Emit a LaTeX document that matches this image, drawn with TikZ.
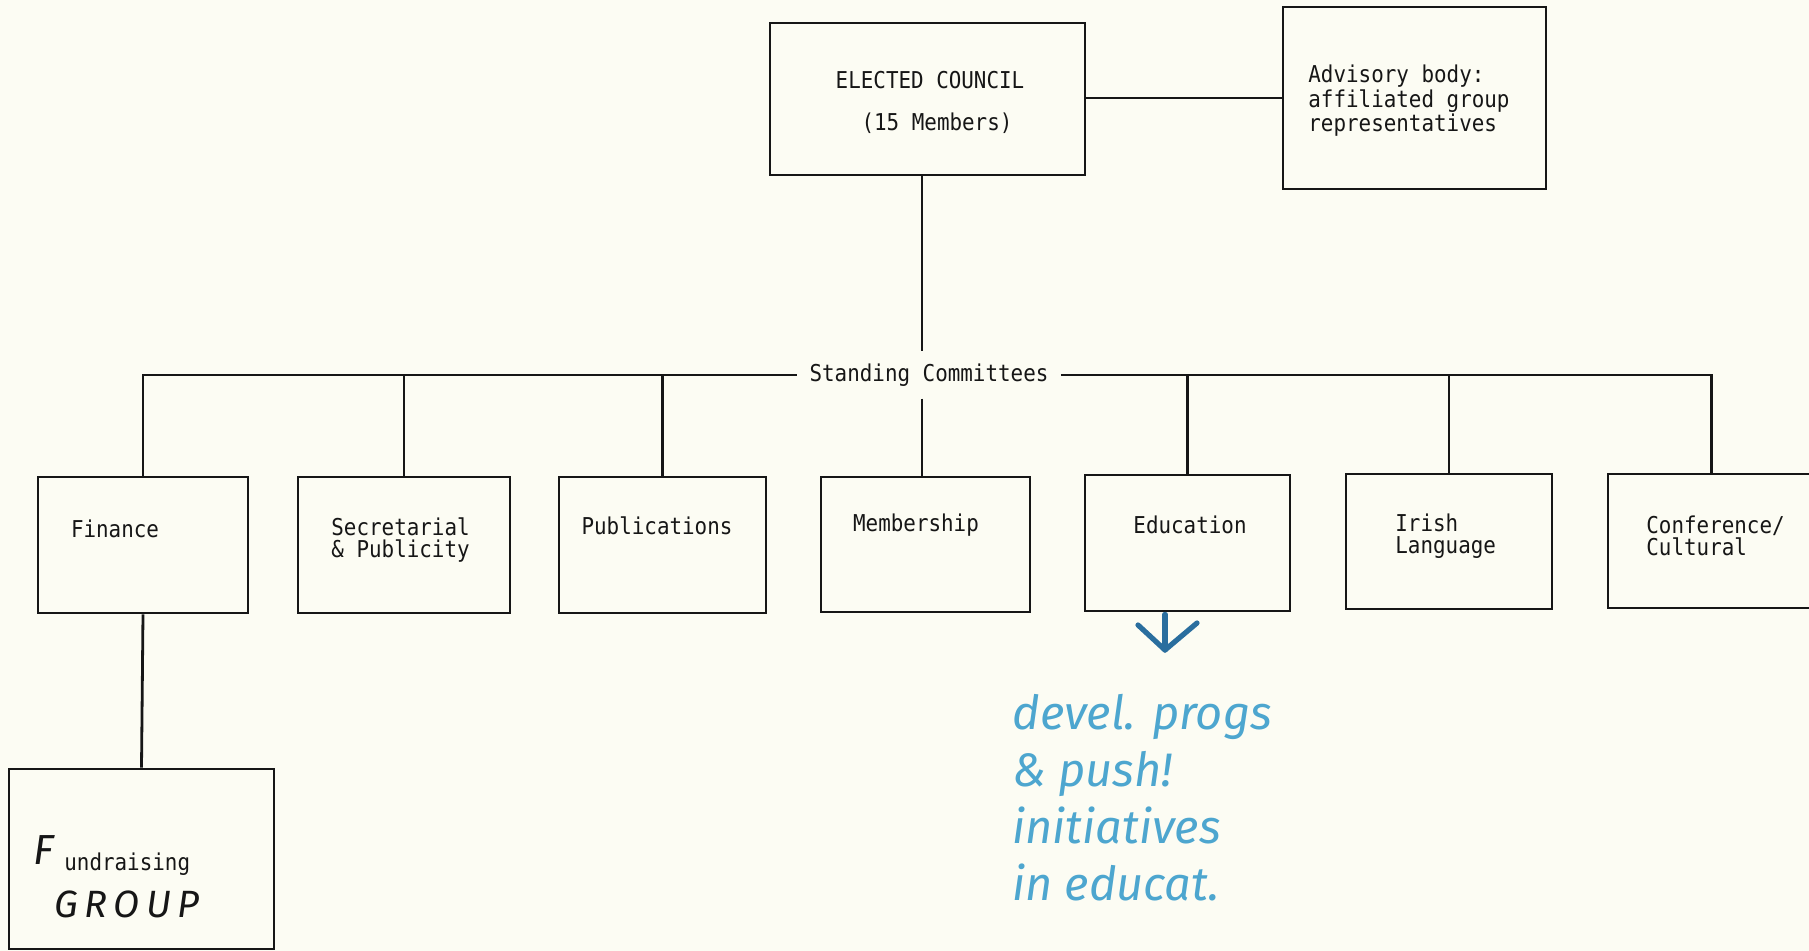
\documentclass[tikz,border=0pt]{standalone}
\usepackage{fontspec}
\setmainfont[FakeStretch=0.9]{DejaVu Sans Mono}
\newfontfamily\hand{Fira Sans}
\definecolor{paper}{HTML}{FCFCF3}
\definecolor{ink}{HTML}{161616}
\definecolor{penlight}{HTML}{4DA6CF}
\definecolor{pendark}{HTML}{2A6E9E}
\begin{document}
\begin{tikzpicture}[x=0.5pt,y=-0.5pt,
  box/.style={draw=ink, line width=1.4pt, inner sep=0pt},
  conn/.style={draw=ink, line width=1.4pt},
  lbl/.style={text=ink, inner sep=0pt, font=\fontsize{11.6}{10.8}\selectfont},
  mlbl/.style={lbl, align=left, anchor=west},
  handtxt/.style={inner sep=0pt, font=\hand\itshape}]
\fill[paper] (0,0) rectangle (1809,951);
\useasboundingbox (0,0) rectangle (1809,951);

% top level
\node[box, minimum width=157.5pt, minimum height=76pt] (ec) at (927.5,99) {};
\node[box, minimum width=131.5pt, minimum height=91pt] (adv) at (1414.5,98) {};
\node[lbl] (ect1) at (930,80) {ELECTED COUNCIL};
\node[lbl] (ect2) at (937,123) {(15 Members)};
\node[mlbl] (advt) at (1308,101) {Advisory body:\\affiliated group\\representatives};

% standing committees label
\node[lbl, inner xsep=6pt, inner ysep=6pt] (sc) at (929,375) {Standing Committees};
\coordinate (trunk) at (922,375);

% committee boxes
\node[box, minimum width=105pt, minimum height=68pt] (fin) at (143,545) {};
\node[box, minimum width=106pt, minimum height=68pt] (sec) at (404,545) {};
\node[box, minimum width=103.5pt, minimum height=68pt] (pub) at (662.5,545) {};
\node[box, minimum width=104.5pt, minimum height=67.5pt] (mem) at (925.5,544.5) {};
\node[box, minimum width=102.5pt, minimum height=68pt] (edu) at (1187.5,543) {};
\node[box, minimum width=103pt, minimum height=67.5pt] (iri) at (1449,541.5) {};
\node[box, minimum width=103.5pt, minimum height=67pt] (conf) at (1711.5,541) {};
\node[box, minimum width=132.5pt, minimum height=90pt] (fund) at (141.5,859) {};

% committee texts
\node[lbl] (fint) at (115,529) {Finance};
\node[mlbl] (sect) at (331,540) {Secretarial\\\& Publicity};
\node[lbl] (pubt) at (657,526) {Publications};
\node[lbl] (memt) at (916,525) {Membership};
\node[lbl] (edut) at (1190,525) {Education};
\node[mlbl] (irit) at (1395,536) {Irish\\Language};
\node[mlbl] (conft) at (1646,536) {Conference/\\Cultural};

% fundraising text
\node[handtxt, text=ink, font=\hand\itshape\fontsize{21}{21}\selectfont] (fundF) at (44,850) {F};
\node[lbl, anchor=west] (fundt) at (64,864) {undraising};
\node[handtxt, text=ink, font=\hand\itshape\fontsize{19}{19}\selectfont] (fundG) at (127,904) {G\,R\,O\,U\,P};

% connectors
\draw[conn] (ec.east |- adv.west) -- (adv.west);
\draw[conn] (ec.south -| trunk) -- (sc.north -| trunk);
\draw[conn] (sc.south -| trunk) -- (mem.north -| trunk);
\draw[conn] (fin.north) |- (sc.west);
\draw[conn] (sc.east) -| (conf.north);
\draw[conn] (sec.north) -- (sec.north |- sc.west);
\draw[conn] (pub.north) -- (pub.north |- sc.west);
\draw[conn] (edu.north) -- (edu.north |- sc.east);
\draw[conn] (iri.north) -- (iri.north |- sc.east);
\draw[conn] (fin.south) -- (fund.north);

% handwritten annotation
\coordinate (arrtop) at ([yshift=-1pt]edu.south -| 1165,0);
\coordinate (arrtip) at (1165,650);
\draw[pendark, line width=2.6pt, line cap=round, line join=round] (arrtop) -- (arrtip);
\draw[pendark, line width=2.6pt, line cap=round, line join=round] (1138,625) -- (arrtip) -- (1197,623);
\node[handtxt, text=penlight, anchor=north west, align=left,
      font=\hand\itshape\fontsize{23.5}{28.5}\selectfont] (note) at (1012,694)
  {devel. progs\\\& push!\\initiatives\\in educat.};
\end{tikzpicture}
\end{document}
